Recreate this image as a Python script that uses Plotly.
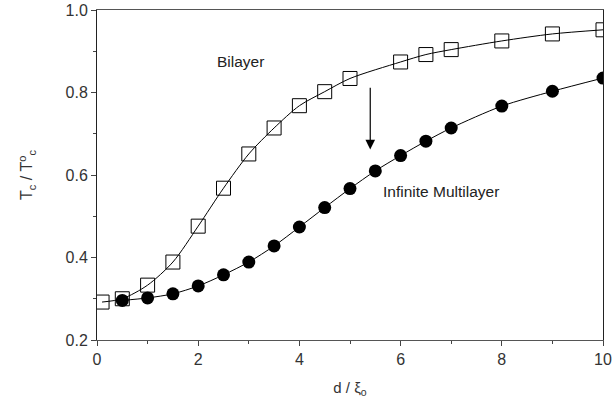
import plotly.graph_objects as go

bilayer_x = [0.1, 0.5, 1.0, 1.5, 2.0, 2.5, 3.0, 3.5, 4.0, 4.5, 5.0, 6.0, 6.5, 7.0, 8.0, 9.0, 10.0]
bilayer_y = [0.292, 0.300, 0.333, 0.389, 0.476, 0.568, 0.651, 0.714, 0.768, 0.802, 0.834, 0.874, 0.892, 0.904, 0.925, 0.942, 0.952]

multi_x = [0.5, 1.0, 1.5, 2.0, 2.5, 3.0, 3.5, 4.0, 4.5, 5.0, 5.5, 6.0, 6.5, 7.0, 8.0, 9.0, 10.0]
multi_y = [0.296, 0.302, 0.312, 0.331, 0.358, 0.389, 0.428, 0.474, 0.521, 0.567, 0.610, 0.647, 0.682, 0.714, 0.767, 0.803, 0.835]

x_ticks = [0, 2, 4, 6, 8, 10]
y_ticks = [0.2, 0.4, 0.6, 0.8, 1.0]
y_tick_labels = ["0.2", "0.4", "0.6", "0.8", "1.0"]

font = "Liberation Sans, Arial, sans-serif"

fig = go.Figure()
fig.add_trace(go.Scatter(
    x=multi_x, y=multi_y, mode="lines+markers",
    line=dict(color="black", width=1, shape="spline", smoothing=0.8),
    marker=dict(symbol="circle", size=13, color="black"),
    showlegend=False, hoverinfo="skip"))
fig.add_trace(go.Scatter(
    x=bilayer_x, y=bilayer_y, mode="lines+markers",
    line=dict(color="black", width=1, shape="spline", smoothing=0.8),
    marker=dict(symbol="square-open", size=14, color="black", line=dict(width=1)),
    showlegend=False, hoverinfo="skip"))

fig.add_annotation(x=2.84, y=0.874, text="Bilayer", showarrow=False,
                   font=dict(family=font, size=15.5, color="#222"))
fig.add_annotation(x=6.8, y=0.559, text="Infinite Multilayer", showarrow=False,
                   font=dict(family=font, size=15.5, color="#222"))
fig.add_annotation(x=5.4, y=0.662, ax=5.4, ay=0.815, xref="x", yref="y",
                   axref="x", ayref="y", text="", showarrow=True,
                   arrowhead=2, arrowsize=1.6, arrowwidth=1.2, arrowcolor="black")

fig.update_layout(
    width=614, height=402,
    margin=dict(l=97, r=11, t=10, b=62),
    paper_bgcolor="white", plot_bgcolor="white",
    font=dict(family=font, size=16, color="#333"),
    xaxis=dict(range=[0, 10], tickvals=x_ticks, ticks="outside", ticklen=5,
               tickcolor="#444", showgrid=False, zeroline=False, automargin=False,
               showline=True, linecolor="#555", linewidth=1, mirror=True,
               minor=dict(dtick=1, ticks="outside", ticklen=3, tickcolor="#444"),
               title=dict(text="d / ξ<sub>o</sub>", font=dict(size=15))),
    yaxis=dict(range=[0.2, 1.0], tickvals=y_ticks, ticktext=y_tick_labels,
               ticks="outside", ticklen=5, tickcolor="#444", automargin=False,
               showgrid=False, zeroline=False,
               showline=True, linecolor="#222", linewidth=1, mirror=True,
               minor=dict(dtick=0.1, ticks="outside", ticklen=3, tickcolor="#444"),
               title=dict(text="T<sub>c</sub> / T<sup>o</sup><sub>c</sub>",
                          font=dict(size=16), standoff=28)),
)

fig.write_html("out.html", config={"displayModeBar": False},
               post_script="document.body.style.margin='0';document.body.style.padding='0';")
